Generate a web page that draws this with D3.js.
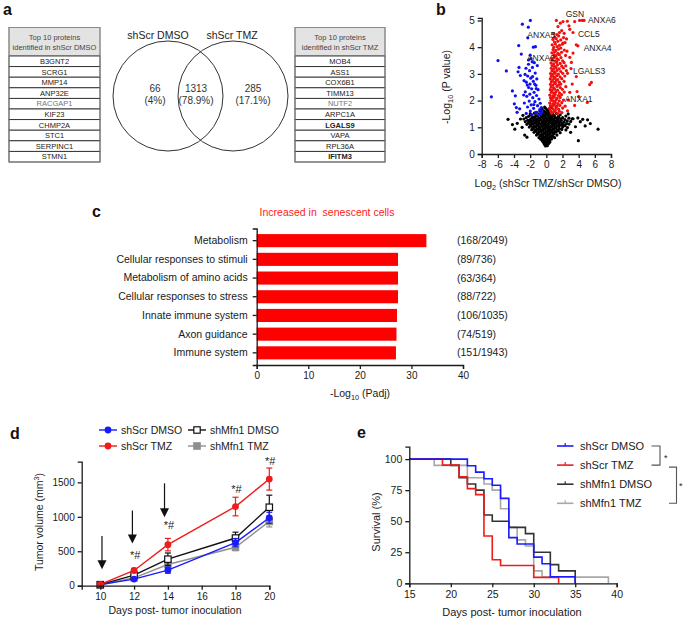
<!DOCTYPE html>
<html>
<head>
<meta charset="utf-8">
<script src="https://cdn.jsdelivr.net/npm/d3@7"></script>
<style>
  body { margin: 0; background: #fff; }
  svg { font-family: "Liberation Sans", Arial, sans-serif; }
</style>
</head>
<body>
<div id="svg"></div>
<script>
// ---- data ----
const dmsoTop = ['B3GNT2', 'SCRG1', 'MMP14', 'ANP32E', 'RACGAP1', 'KIF23', 'CHMP2A', 'STC1', 'SERPINC1', 'STMN1']
const tmzTop = ['MOB4', 'ASS1', 'COX6B1', 'TIMM13', 'NUTF2', 'ARPC1A', 'LGALS9', 'VAPA', 'RPL36A', 'IFITM3']
const vennGroups = ['shScr DMSO', 'shScr TMZ']
const vennCounts = ['66', '1313', '285']
const vennPercents = ['(4%)', '(78.9%)', '(17.1%)']

const volcanoBlack = [[6.4,0.93],[5.1,1.28],[3.96,0.5],[5.44,1.14],[-4.74,1.3],[-3.6,1.15],[-2.68,0.71],[-3.9,0.93],[-2.4,0.63],[4.5,1.3],[3.6,1.02],[4.2,1.21],[-3.2,1.31],[-4.2,1.1],[3.0,0.81],[-3.0,1.0],[4.8,1.05],[3.3,1.32],[-2.9,1.45],[3.9,1.35],[2.7,1.5],
[-0.1,0.3],[0.12,0.31],[-0.22,0.36],[0.02,0.34],[0.21,0.37],[-0.31,0.41],[0.06,0.42],[0.29,0.4],[-0.42,0.46],[-0.12,0.44],[0.18,0.47],[0.44,0.45],
[-0.52,0.51],[-0.21,0.49],[0.09,0.52],[0.38,0.5],[-0.71,0.56],[-0.36,0.54],[0.01,0.57],[0.31,0.55],[0.64,0.56],
[-0.91,0.61],[-0.52,0.59],[-0.16,0.62],[0.21,0.6],[0.56,0.63],[1.02,0.61],[-0.61,0.66],[-0.29,0.64],[0.06,0.67],[0.41,0.65],[0.81,0.66],
[-1.22,0.71],[-0.79,0.69],[-0.41,0.72],[0.02,0.7],[0.36,0.73],[0.71,0.69],[1.31,0.71],[-1.01,0.76],[-0.56,0.74],[-0.19,0.77],[0.16,0.75],[0.49,0.78],[0.96,0.76],
[-1.52,0.81],[-1.09,0.79],[-0.71,0.82],[-0.31,0.8],[0.11,0.83],[0.46,0.81],[0.86,0.79],[1.21,0.82],[1.71,0.8],
[-1.31,0.86],[-0.89,0.84],[-0.44,0.87],[-0.04,0.85],[0.31,0.88],[0.66,0.86],[1.06,0.84],[1.49,0.87],
[-1.81,0.91],[-1.41,0.89],[-0.99,0.92],[-0.61,0.9],[-0.19,0.93],[0.21,0.91],[0.56,0.89],[0.94,0.92],[1.36,0.9],[1.91,0.92],[2.42,0.9],
[-1.61,0.96],[-1.19,0.94],[-0.79,0.97],[-0.36,0.95],[0.04,0.98],[0.41,0.96],[0.79,0.94],[1.19,0.97],[1.62,0.95],
[-2.11,1.01],[-1.69,0.99],[-1.31,1.02],[-0.89,1.0],[-0.49,1.03],[-0.11,1.01],[0.29,0.99],[0.71,1.02],[1.09,1.0],[1.51,1.03],[2.01,1.01],[2.61,0.99],
[-1.89,1.06],[-1.49,1.04],[-1.01,1.07],[-0.59,1.05],[-0.21,1.08],[0.16,1.06],[0.51,1.04],[0.91,1.07],[1.29,1.05],[1.79,1.08],[2.31,1.06],
[-2.41,1.11],[-1.99,1.09],[-1.61,1.12],[-1.19,1.1],[-0.79,1.13],[-0.41,1.11],[0.01,1.09],[0.34,1.12],[0.76,1.1],[1.14,1.13],[1.56,1.11],[2.09,1.09],[2.81,1.12],
[-2.21,1.16],[-1.79,1.14],[-1.39,1.17],[-0.99,1.15],[-0.54,1.18],[-0.16,1.16],[0.26,1.14],[0.61,1.17],[1.01,1.15],[1.39,1.18],[1.91,1.16],[2.51,1.14],
[-2.61,1.21],[-2.09,1.19],[-1.71,1.22],[-1.29,1.2],[-0.91,1.23],[-0.44,1.21],[-0.06,1.19],[0.41,1.22],[0.79,1.2],[1.21,1.23],[1.66,1.21],[2.19,1.19],[3.01,1.22],
[-2.31,1.26],[-1.91,1.24],[-1.49,1.27],[-1.09,1.25],[-0.69,1.28],[-0.26,1.26],[0.14,1.24],[0.56,1.27],[0.94,1.25],[1.41,1.28],[1.86,1.26],[2.59,1.24],
[-2.79,1.31],[-2.01,1.29],[-1.59,1.32],[-1.21,1.3],[-0.81,1.33],[-0.34,1.31],[0.06,1.29],[0.44,1.32],[0.86,1.3],[1.29,1.33],[1.76,1.31],[2.29,1.29],[3.19,1.32],
[-2.49,1.36],[-1.81,1.34],[-1.41,1.37],[-0.94,1.35],[-0.51,1.38],[-0.09,1.36],[0.31,1.34],[0.69,1.37],[1.11,1.35],[1.54,1.38],[2.01,1.36],[2.79,1.34],
[-2.19,1.41],[-1.69,1.39],[-1.11,1.42],[-0.61,1.4],[-0.19,1.43],[0.21,1.41],[0.59,1.39],[0.99,1.42],[1.46,1.4],[2.41,1.42],
[-1.91,1.46],[-1.29,1.44],[-0.79,1.47],[-0.34,1.45],[0.11,1.48],[0.49,1.46],[0.91,1.44],[1.71,1.47],
[-1.99,1.51],[-1.49,1.53],[-0.89,1.5],[-0.41,1.52],[0.01,1.51],[0.36,1.53],[0.79,1.5],[1.26,1.52],
[-1.21,1.56],[-0.61,1.58],[-0.14,1.56],[0.26,1.57],[-0.81,1.62],[-0.29,1.61],[0.11,1.63],[0.51,1.6],
[-0.51,1.69],[-0.09,1.71],[0.31,1.68],[-0.21,1.76],[0.61,1.74]]

const volcanoBlue = [[-1.98,5.0],[-2.97,4.86],[-2.23,4.75],[-2.3,4.35],[-3.42,4.06],[-1.6,4.0],[-1.35,4.02],[-5.98,3.5],[-3.1,3.74],[-4.95,3.11],[-3.38,3.24],[-3.5,3.08],[-3.22,2.94],[-6.8,2.14],[-4.2,2.36],[-3.84,2.18],[-3.71,1.74],[-3.3,1.69],[-3.96,1.88],[-2.76,2.75],[-3.62,1.56],
[-2.2,3.52],[-1.9,3.57],[-2.52,3.21],[-2.08,3.12],[-1.72,3.24],[-1.38,3.03],[-2.31,2.92],[-1.93,2.84],[-1.18,2.81],[-2.48,2.69],[-1.61,2.72],[-2.02,2.62],[-1.29,2.57],[-2.19,2.49],[-1.82,2.44],[-1.02,2.41],[-2.61,2.33],[-1.52,2.31],[-2.04,2.24],[-1.21,2.19],[-2.42,2.16],[-1.68,2.11],[-0.91,2.06],[-2.12,1.98],[-1.41,1.96],[-2.72,1.91],[-1.88,1.84],[-1.09,1.81],[-2.33,1.76],[-1.58,1.71],[-0.82,1.66],[-1.99,1.61],[-1.31,1.56],[-2.49,1.52],[-0.71,1.51],[-1.79,1.47],[-0.98,1.46],
[-2.21,3.36],[-1.49,3.42],[-2.63,2.98],[-1.12,3.31],[-0.62,1.74],[-2.81,2.21],[-1.45,2.62],[-2.36,2.58],[-0.52,1.57],[-1.7,2.9],[-1.25,2.45],[-0.75,1.9],[-1.55,1.85],[-2.0,3.7],[-1.75,3.45]]

const volcanoRed = [[1.24,5.0],[2.06,4.96],[2.6,4.97],[3.5,4.96],[4.12,5.0],[4.45,5.0],[4.66,5.0],[2.8,4.8],[3.3,4.55],[3.7,4.09],[3.9,4.05],[3.3,3.78],[3.1,3.43],[2.4,3.3],[3.7,2.9],[5.57,2.68],[5.36,2.6],[3.8,2.34],[4.0,2.15],[5.07,1.93],[2.7,2.02],[1.73,4.9],[1.44,4.77],[2.9,4.67],[2.2,4.52],[1.9,4.62],[2.5,4.31],[2.9,3.62],[2.62,3.02],[3.2,2.62],[2.9,2.31],[3.5,1.82],[2.05,4.15],[2.55,3.85],[3.05,3.2],
[0.92,4.51],[1.31,4.47],[1.62,4.55],[1.03,4.38],[1.52,4.42],[2.12,4.36],[0.81,4.29],[1.22,4.32],[1.78,4.27],[1.01,4.19],[1.41,4.22],[2.31,4.17],
[0.72,4.09],[1.12,4.12],[1.63,4.07],[1.98,4.11],[0.91,3.99],[1.33,4.02],[1.79,3.97],[0.83,3.91],[1.18,3.88],[1.52,3.93],[2.21,3.89],
[0.69,3.79],[1.02,3.82],[1.42,3.77],[1.88,3.81],[0.93,3.71],[1.21,3.68],[1.61,3.72],[2.38,3.69],[0.62,3.59],[0.98,3.62],[1.32,3.57],[1.81,3.61],
[0.79,3.51],[1.12,3.48],[1.49,3.53],[2.02,3.49],[0.58,3.41],[0.91,3.38],[1.29,3.43],[1.71,3.39],[2.19,3.42],[0.71,3.31],[1.02,3.28],[1.38,3.33],[1.92,3.29],
[0.61,3.21],[0.88,3.18],[1.21,3.23],[1.59,3.19],[2.11,3.22],[0.69,3.11],[0.99,3.08],[1.32,3.13],[1.78,3.09],[2.48,3.12],
[0.52,3.01],[0.82,2.98],[1.11,3.03],[1.49,2.99],[2.02,3.02],[0.61,2.91],[0.92,2.88],[1.28,2.93],[1.69,2.89],[2.28,2.92],
[0.49,2.81],[0.78,2.78],[1.09,2.83],[1.41,2.79],[1.91,2.82],[0.62,2.71],[0.98,2.68],[1.22,2.73],[1.61,2.69],[2.19,2.72],
[0.51,2.61],[0.81,2.58],[1.12,2.63],[1.52,2.59],[1.79,2.62],[0.59,2.51],[0.89,2.48],[1.31,2.53],[1.72,2.49],[2.41,2.52],
[0.48,2.41],[0.71,2.38],[1.02,2.43],[1.39,2.39],[1.98,2.42],[0.61,2.31],[0.91,2.28],[1.18,2.33],[1.62,2.29],[2.21,2.32],
[0.42,2.21],[0.79,2.18],[1.09,2.23],[1.51,2.19],[1.88,2.22],[0.52,2.11],[0.72,2.08],[0.98,2.13],[1.32,2.09],[1.71,2.12],
[0.58,2.01],[0.88,1.98],[1.21,2.03],[1.59,1.99],[2.12,2.02],[0.41,1.91],[0.79,1.88],[1.08,1.93],[1.42,1.89],[1.91,1.92],
[0.49,1.81],[0.71,1.78],[1.01,1.83],[1.29,1.79],[1.68,1.82],[2.32,1.79],[0.38,1.71],[0.81,1.69],[1.19,1.73],[1.52,1.68],[2.01,1.72],
[0.52,1.61],[0.92,1.59],[1.11,1.63],[1.61,1.6],[2.62,1.62],[0.62,1.53],[1.38,1.52],[1.92,1.55]]

const volcanoGenes = ['GSN', 'ANXA6', 'CCL5', 'ANXA4', 'LGALS3', 'ANXA1', 'ANXA5', 'ANXA2']
const volcanoGeneAt = [[2.4,5.12],[5.15,4.92],[3.91,4.39],[4.62,3.87],[3.3,3.0],[2.27,1.96],[-2.35,4.36],[-2.4,3.5]]

const pathways = ['Metabolism', 'Cellular responses to stimuli', 'Metabolism of amino acids', 'Cellular responses to stress', 'Innate immune system', 'Axon guidance', 'Immune system']
const padj = [32.9, 27.4, 27.4, 27.4, 27.2, 27.1, 27.0]
const pathwayCounts = ['(168/2049)', '(89/736)', '(63/364)', '(88/722)', '(106/1035)', '(74/519)', '(151/1943)']

const days = [10, 12, 14, 18, 20]
const scrDmsoMean = [15, 96, 226, 625, 986]
const scrDmsoErr = [8, 20, 45, 60, 80]
const scrTmzMean = [20, 221, 596, 1149, 1548]
const scrTmzErr = [10, 30, 90, 135, 160]
const mfnDmsoMean = [15, 154, 385, 692, 1139]
const mfnDmsoErr = [8, 25, 90, 85, 175]
const mfnTmzMean = [10, 115, 308, 558, 933]
const mfnTmzErr = [6, 20, 40, 50, 80]
const treatDays = [10.1, 11.9, 13.8]
const arrowFrom = [721, 1091, 1486]
const arrowTo = [240, 611, 995]
const sigDays = [12, 14, 18, 20]
const sigLevel = [442, 875, 1404, 1812]

const scrDmsoSurv = [[15,100],[22,94.7],[23,89.5],[24,84.2],[25,78.9],[26,68.4],[27,36.8],[28,31.6],[30,21.1],[31,15.8],[32,5.3],[35,0]]
const scrTmzSurv = [[15,100],[19,95.2],[21,85.7],[22,76.2],[23,71.4],[24,38.1],[25,19.0],[26,14.3],[30,4.8],[33,0]]
const mfnDmsoSurv = [[15,100],[20,95],[21,85],[22,80],[23,75],[24,55],[25,50],[27,45],[29,40],[30,25],[32,15],[33,10],[35,0]]
const mfnTmzSurv = [[15,100],[18,95],[22,85],[24,80],[25,75],[26,60],[27,45],[28,35],[29,30],[30,10],[31,5],[39,0]]
const survNames = ['shScr DMSO', 'shScr TMZ', 'shMfn1 DMSO', 'shMfn1 TMZ']

// ---- helpers ----
const INK = '#1a1a1a'
const svg = d3.select('#svg').append('svg').attr('width', 685).attr('height', 619)
svg.append('rect').attr('width', 685).attr('height', 619).attr('fill', '#fff')

const letter = (t, x, y) => svg.append('text').attr('x', x).attr('y', y)
    .attr('font-size', 16).attr('font-weight', 'bold').attr('fill', '#111').text(t)

const styleAxis = (g, fs) => {
    g.attr('font-family', null)
    g.select('.domain').attr('stroke', INK).attr('stroke-width', 1.3)
    g.selectAll('.tick line').attr('stroke', INK).attr('stroke-width', 1.3)
    g.selectAll('.tick text').attr('font-size', fs).attr('fill', INK)
    return g
}

// parts: {t, small, dy}
const subLabel = (x, y, parts, fs, rotate) => {
    const t = svg.append('text').attr('text-anchor', 'middle').attr('font-size', fs).attr('fill', INK)
        .attr('transform', `translate(${x},${y})` + (rotate ? ' rotate(-90)' : ''))
    parts.forEach(p => {
        const s = t.append('tspan').text(p.t)
        if (p.small) s.attr('font-size', fs * 0.7)
        if (p.dy) s.attr('dy', p.dy)
    })
    return t
}

// ---- panel a ----
letter('a', 3, 15)

const drawTable = (x0, w, title, names) => {
    const g = svg.append('g')
    const rows = d3.scaleBand().domain(names).range([56, 162])
    g.append('rect').attr('x', x0).attr('y', 27.5).attr('width', w).attr('height', 28.5)
        .attr('fill', '#e3e3e3').attr('stroke', '#8a8a8a').attr('stroke-width', 1)
    g.append('text').attr('x', x0 + w / 2).attr('y', 40).attr('text-anchor', 'middle')
        .attr('font-size', 7.5).attr('fill', '#444').text('Top 10 proteins')
    g.append('text').attr('x', x0 + w / 2).attr('y', 50).attr('text-anchor', 'middle')
        .attr('font-size', 7.5).attr('fill', '#444').text(title)
    g.selectAll('rect.row').data(names).enter().append('rect').attr('class', 'row')
        .attr('x', x0).attr('y', d => rows(d)).attr('width', w).attr('height', rows.bandwidth())
        .attr('fill', '#fff').attr('stroke', '#2a2a2a').attr('stroke-width', 0.9)
    g.selectAll('text.name').data(names).enter().append('text').attr('class', 'name')
        .attr('x', x0 + w / 2).attr('y', d => rows(d) + rows.bandwidth() / 2 + 2.7)
        .attr('text-anchor', 'middle').attr('font-size', 7.5)
        .attr('fill', d => (d === 'RACGAP1' || d === 'NUTF2') ? '#777' : '#222')
        .attr('font-weight', d => (d === 'LGALS9' || d === 'IFITM3') ? 'bold' : null)
        .text(d => d)
    g.append('rect').attr('x', x0).attr('y', 27.5).attr('width', w).attr('height', 134.5)
        .attr('fill', 'none').attr('stroke', '#8a8a8a').attr('stroke-width', 1)
}
drawTable(9, 91, 'identified in shScr DMSO', dmsoTop)
drawTable(295, 90, 'identified in shScr TMZ', tmzTop)

const vennX = [168, 233]
svg.selectAll('circle.venn').data(vennGroups).enter().append('circle').attr('class', 'venn')
    .attr('cx', (d, i) => vennX[i]).attr('cy', 96).attr('r', 55)
    .attr('fill', 'none').attr('stroke', '#333').attr('stroke-width', 1)
svg.selectAll('text.vg').data(vennGroups).enter().append('text').attr('class', 'vg')
    .attr('x', (d, i) => [158, 232][i]).attr('y', 39).attr('text-anchor', 'middle')
    .attr('font-size', 10.5).attr('fill', INK).text(d => d)
const countX = [155, 196, 253]
svg.selectAll('text.vc').data(vennCounts).enter().append('text').attr('class', 'vc')
    .attr('x', (d, i) => countX[i]).attr('y', 92).attr('text-anchor', 'middle')
    .attr('font-size', 10).attr('fill', '#333').text(d => d)
svg.selectAll('text.vp').data(vennPercents).enter().append('text').attr('class', 'vp')
    .attr('x', (d, i) => countX[i]).attr('y', 103.5).attr('text-anchor', 'middle')
    .attr('font-size', 10).attr('fill', '#333').text(d => d)

// ---- panel b ----
letter('b', 436, 15)
const vx = d3.scaleLinear().domain([-8, 8]).range([481.7, 611])
const vy = d3.scaleLinear().domain([0, 5.1]).range([154, 17.8])

const vol = svg.append('g')
const dots = (data, color) => vol.selectAll(null).data(data).enter().append('circle')
    .attr('cx', d => vx(d[0])).attr('cy', d => vy(d[1])).attr('r', 1.6).attr('fill', color)
dots(volcanoBlack, '#000')
dots(volcanoBlue, '#1010f0')
dots(volcanoRed, '#f01010')

vol.selectAll('text').data(volcanoGenes).enter().append('text')
    .attr('x', (d, i) => vx(volcanoGeneAt[i][0])).attr('y', (d, i) => vy(volcanoGeneAt[i][1]))
    .attr('font-size', 8.5).attr('fill', '#222').text(d => d)

styleAxis(svg.append('g').attr('transform', 'translate(0,154)')
    .call(d3.axisBottom(vx).tickValues(d3.range(-8, 9, 2)).tickFormat(d => String(d)).tickSizeOuter(0).tickSize(4)), 10)
styleAxis(svg.append('g').attr('transform', 'translate(481.7,0)')
    .call(d3.axisLeft(vy).tickValues([0, 1, 2, 3, 4, 5]).tickFormat(d => String(d)).tickSizeOuter(0).tickSize(4)), 10)
subLabel(450, 87, [{t: '-Log'}, {t: '10', small: true, dy: 3}, {t: ' (P value)', dy: -3}], 10.5, true)
subLabel(548, 187, [{t: 'Log'}, {t: '2', small: true, dy: 3}, {t: ' (shScr TMZ/shScr DMSO)', dy: -3}], 10.5, false)

// ---- panel c ----
letter('c', 92, 217)
const cx = d3.scaleLinear().domain([0, 40]).range([256.7, 463])
const cy = d3.scaleBand().domain(pathways).range([228.5, 365]).paddingInner(0.3).paddingOuter(0.3)

svg.append('text').attr('x', 327).attr('y', 216).attr('text-anchor', 'middle')
    .attr('font-size', 10.5).attr('fill', '#ff1a1a').attr('xml:space', 'preserve').text('Increased in  senescent cells')

svg.selectAll('rect.bar').data(pathways).enter().append('rect').attr('class', 'bar')
    .attr('x', cx(0)).attr('y', d => cy(d)).attr('height', cy.bandwidth())
    .attr('width', (d, i) => cx(padj[i]) - cx(0)).attr('fill', '#ff0000')
svg.selectAll('text.cnt').data(pathwayCounts).enter().append('text').attr('class', 'cnt')
    .attr('x', 457).attr('y', (d, i) => cy(pathways[i]) + cy.bandwidth() / 2 + 3.6)
    .attr('font-size', 10.5).attr('fill', INK).text(d => d)

styleAxis(svg.append('g').attr('transform', 'translate(0,365)')
    .call(d3.axisBottom(cx).tickValues([0, 10, 20, 30, 40]).tickSizeOuter(0).tickSize(4)), 10)
styleAxis(svg.append('g').attr('transform', `translate(${cx(0)},0)`)
    .call(d3.axisLeft(cy).tickSizeOuter(0).tickSize(4).tickPadding(5)), 10.5)
subLabel(360, 397, [{t: '-Log'}, {t: '10', small: true, dy: 3}, {t: ' (Padj)', dy: -3}], 10.5, false)

// ---- panel d ----
letter('d', 10, 439)
const dx = d3.scaleLinear().domain([8.9, 20]).range([81.7, 269.3])
const dy = d3.scaleLinear().domain([0, 1800]).range([585.7, 461.7])

const growth = [
    {name: 'shMfn1 TMZ', mean: mfnTmzMean, err: mfnTmzErr, color: '#8f8f8f', shape: 'square', fill: '#8f8f8f'},
    {name: 'shMfn1 DMSO', mean: mfnDmsoMean, err: mfnDmsoErr, color: '#111', shape: 'square', fill: '#fff'},
    {name: 'shScr DMSO', mean: scrDmsoMean, err: scrDmsoErr, color: '#1a1aff', shape: 'circle', fill: '#1a1aff'},
    {name: 'shScr TMZ', mean: scrTmzMean, err: scrTmzErr, color: '#ee1c1c', shape: 'circle', fill: '#ee1c1c'}
]
const marker = (g, s, x, y) => {
    if (s.shape === 'circle') {
        g.append('circle').attr('cx', x).attr('cy', y).attr('r', 3.4).attr('fill', s.fill)
    } else {
        g.append('rect').attr('x', x - 3.2).attr('y', y - 3.2).attr('width', 6.4).attr('height', 6.4)
            .attr('fill', s.fill).attr('stroke', s.color).attr('stroke-width', 1.2)
    }
}
const gline = d3.line().x(d => dx(d[0])).y(d => dy(d[1]))
growth.forEach(s => {
    const g = svg.append('g')
    const pts = days.map((d, i) => [d, s.mean[i]])
    days.forEach((d, i) => {
        const x = dx(d), lo = dy(s.mean[i] - s.err[i]), hi = dy(s.mean[i] + s.err[i])
        g.append('line').attr('x1', x).attr('x2', x).attr('y1', lo).attr('y2', hi).attr('stroke', s.color).attr('stroke-width', 1.2)
        g.append('line').attr('x1', x - 3).attr('x2', x + 3).attr('y1', hi).attr('y2', hi).attr('stroke', s.color).attr('stroke-width', 1.2)
        g.append('line').attr('x1', x - 3).attr('x2', x + 3).attr('y1', lo).attr('y2', lo).attr('stroke', s.color).attr('stroke-width', 1.2)
    })
    g.append('path').attr('d', gline(pts)).attr('fill', 'none').attr('stroke', s.color).attr('stroke-width', 1.4)
    pts.forEach(p => marker(g, s, dx(p[0]), dy(p[1])))
})

treatDays.forEach((d, i) => {
    svg.append('line').attr('x1', dx(d)).attr('x2', dx(d)).attr('y1', dy(arrowFrom[i])).attr('y2', dy(arrowTo[i]) - 6)
        .attr('stroke', '#111').attr('stroke-width', 1.2)
    svg.append('path')
        .attr('d', `M${dx(d) - 4.5},${dy(arrowTo[i]) - 9} L${dx(d) + 4.5},${dy(arrowTo[i]) - 9} L${dx(d)},${dy(arrowTo[i])} z`)
        .attr('fill', '#111')
})
svg.selectAll('text.sig').data(sigDays).enter().append('text').attr('class', 'sig')
    .attr('x', d => dx(d) + 1).attr('y', (d, i) => dy(sigLevel[i]) + 4).attr('text-anchor', 'middle')
    .attr('font-size', 11).attr('fill', INK).text('*#')

styleAxis(svg.append('g').attr('transform', 'translate(0,585.7)')
    .call(d3.axisBottom(dx).tickValues([10, 12, 14, 16, 18, 20]).tickSizeOuter(0).tickSize(4)), 10)
styleAxis(svg.append('g').attr('transform', 'translate(81.7,0)')
    .call(d3.axisLeft(dy).tickValues([0, 500, 1000, 1500]).tickFormat(d => String(d)).tickSizeOuter(0).tickSize(4)), 10)
subLabel(43, 522, [{t: 'Tumor volume (mm'}, {t: '3', small: true, dy: -4}, {t: ')', dy: 4}], 10.5, true)
svg.append('text').attr('x', 175).attr('y', 614).attr('text-anchor', 'middle')
    .attr('font-size', 10.5).attr('fill', INK).text('Days post- tumor inoculation')

const legD = [
    {s: growth[2], x: 99, y: 430}, {s: growth[1], x: 188, y: 430},
    {s: growth[3], x: 99, y: 446}, {s: growth[0], x: 188, y: 446}
]
legD.forEach(l => {
    svg.append('line').attr('x1', l.x).attr('x2', l.x + 18).attr('y1', l.y).attr('y2', l.y)
        .attr('stroke', l.s.color).attr('stroke-width', 1.4)
    marker(svg, l.s, l.x + 9, l.y)
    svg.append('text').attr('x', l.x + 22).attr('y', l.y + 3.8).attr('font-size', 10.5).attr('fill', INK).text(l.s.name)
})

// ---- panel e ----
letter('e', 357, 438)
const ex = d3.scaleLinear().domain([15, 40]).range([409.3, 616.7])
const ey = d3.scaleLinear().domain([0, 110]).range([583.3, 446.7])
const survColors = ['#1a1aff', '#ee1c1c', '#333', '#a8a8a8']
const survSets = [mfnTmzSurv, mfnDmsoSurv, scrTmzSurv, scrDmsoSurv]
const survOrder = [3, 2, 1, 0]
const sline = d3.line().x(d => ex(d[0])).y(d => ey(d[1])).curve(d3.curveStepAfter)
survSets.forEach((s, k) => {
    svg.append('path').attr('d', sline(s)).attr('fill', 'none')
        .attr('stroke', survColors[survOrder[k]]).attr('stroke-width', 1.6)
})

styleAxis(svg.append('g').attr('transform', 'translate(0,583.3)')
    .call(d3.axisBottom(ex).tickValues([15, 20, 25, 30, 35, 40]).tickSizeOuter(0).tickSize(4)), 10.5)
styleAxis(svg.append('g').attr('transform', 'translate(409.3,0)')
    .call(d3.axisLeft(ey).tickValues([0, 25, 50, 75, 100]).tickSizeOuter(0).tickSize(4)), 10.5)
svg.append('text').attr('transform', 'translate(380,522) rotate(-90)').attr('text-anchor', 'middle')
    .attr('font-size', 11).attr('fill', INK).text('Survival (%)')
svg.append('text').attr('x', 512).attr('y', 616).attr('text-anchor', 'middle')
    .attr('font-size', 11).attr('fill', INK).text('Days post- tumor inoculation')

const legY = d3.scalePoint().domain(survNames).range([446, 503.3])
survNames.forEach((n, i) => {
    const y = legY(n)
    svg.append('line').attr('x1', 557).attr('x2', 573.5).attr('y1', y).attr('y2', y)
        .attr('stroke', survColors[i]).attr('stroke-width', 1.6)
    svg.append('line').attr('x1', 565.2).attr('x2', 565.2).attr('y1', y - 3).attr('y2', y)
        .attr('stroke', survColors[i]).attr('stroke-width', 1.2)
    svg.append('text').attr('x', 580).attr('y', y + 4).attr('font-size', 11).attr('fill', INK).text(n)
})
svg.append('path').attr('d', `M651.5,${legY(survNames[0])} H660 V${legY(survNames[1])} H651.5`)
    .attr('fill', 'none').attr('stroke', '#555').attr('stroke-width', 1.1)
svg.append('text').attr('x', 664).attr('y', 461).attr('font-size', 9).attr('fill', INK).text('*')
svg.append('path').attr('d', `M669,${legY(survNames[1]) + 2} H676.5 V${legY(survNames[3])} H669`)
    .attr('fill', 'none').attr('stroke', '#555').attr('stroke-width', 1.1)
svg.append('text').attr('x', 679).attr('y', 489).attr('font-size', 9).attr('fill', INK).text('*')
</script>
</body>
</html>
